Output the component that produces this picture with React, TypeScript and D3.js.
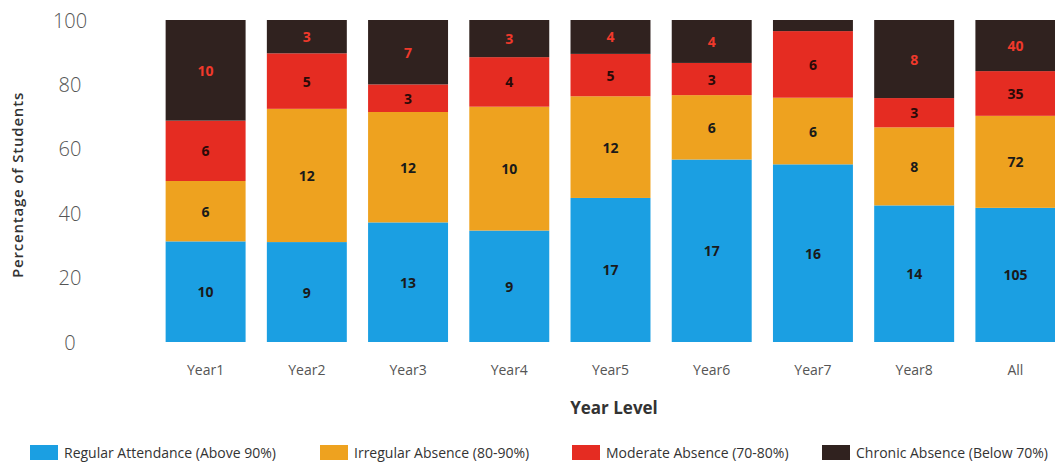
import React from "react";
import * as d3 from "d3";

const categories = ["Year1", "Year2", "Year3", "Year4", "Year5", "Year6", "Year7", "Year8", "All"];
const seriesNames = [
  "Regular Attendance (Above 90%)",
  "Irregular Absence (80-90%)",
  "Moderate Absence (70-80%)",
  "Chronic Absence (Below 70%)",
];
const regular = [10, 9, 13, 9, 17, 17, 16, 14, 105];
const irregular = [6, 12, 12, 10, 12, 6, 6, 8, 72];
const moderate = [6, 5, 3, 4, 5, 3, 6, 3, 35];
const chronic = [10, 3, 7, 3, 4, 4, 1, 8, 40];
const yTicks = [0, 20, 40, 60, 80, 100];

const colors = ["#1b9fe2", "#eea21f", "#e52c22", "#30221f"];
const labelColors = ["#1a1a1a", "#1a1a1a", "#2a0a08", "#f0392b"];

const W = 1055;
const H = 473;
const FONT = "'Open Sans', 'Noto Sans', sans-serif";

export default function App() {
  const series = [regular, irregular, moderate, chronic];
  const rows = categories.map((c, i) => {
    const r: Record<string, number | string> = { cat: c };
    const total = series.reduce((s, arr) => s + arr[i], 0);
    series.forEach((arr, k) => {
      r["s" + k] = (arr[i] / total) * 100;
      r["v" + k] = arr[i];
    });
    return r;
  });
  const keys = ["s0", "s1", "s2", "s3"];
  const stacked = d3.stack<any>().keys(keys)(rows as any);

  const x = d3.scaleBand().domain(categories).range([155, 1066]).paddingInner(0.21).paddingOuter(0.105);
  const y = d3.scaleLinear().domain([0, 100]).range([342, 20]);

  const legendX = [30, 320, 572, 822];

  return (
    <svg width={W} height={H} style={{ position: "absolute", left: 0, top: 0, background: "#fff" }}>
      {/* y tick labels */}
      {yTicks.map((t) => (
        <text key={t} x={70} y={y(t)} textAnchor="middle" dominantBaseline="central"
          fontFamily={FONT} fontSize={20} fontWeight={300} fill="#555">
          {t}
        </text>
      ))}
      <text transform={`translate(17,${y(50) + 4}) rotate(-90)`} textAnchor="middle" dominantBaseline="central"
        fontFamily={FONT} fontSize={15} fontWeight={600} letterSpacing={0.8} fill="#333">
        Percentage of Students
      </text>

      {/* stacked bars */}
      {stacked.map((layer, k) => (
        <g key={layer.key}>
          {layer.map((d, i) => {
            const x0 = x(categories[i])!;
            const top = y(d[1]);
            const bot = y(d[0]);
            const val = (d.data as any)["v" + k] as number;
            return (
              <g key={categories[i]}>
                <rect x={x0} y={top} width={x.bandwidth()} height={bot - top} fill={colors[k]} />
                {bot - top > 14 && (
                  <text x={x0 + x.bandwidth() / 2} y={(top + bot) / 2} textAnchor="middle" dominantBaseline="central"
                    fontFamily={FONT} fontSize={14} fontWeight={700} fill={labelColors[k]}>
                    {val}
                  </text>
                )}
              </g>
            );
          })}
        </g>
      ))}

      {/* x labels */}
      {categories.map((c) => (
        <text key={c} x={x(c)! + x.bandwidth() / 2} y={369} textAnchor="middle" dominantBaseline="central"
          fontFamily={FONT} fontSize={14} fill="#555">
          {c}
        </text>
      ))}
      <text x={614} y={407} textAnchor="middle" dominantBaseline="central"
        fontFamily={FONT} fontSize={17} fontWeight={700} fill="#333">
        Year Level
      </text>

      {/* legend */}
      {seriesNames.map((n, k) => (
        <g key={n} transform={`translate(${legendX[k]},452)`}>
          <rect x={0} y={-7} width={28} height={15} fill={colors[k]} />
          <text x={34} y={0} dominantBaseline="central" fontFamily={FONT} fontSize={14} fill="#333">
            {n}
          </text>
        </g>
      ))}
    </svg>
  );
}
